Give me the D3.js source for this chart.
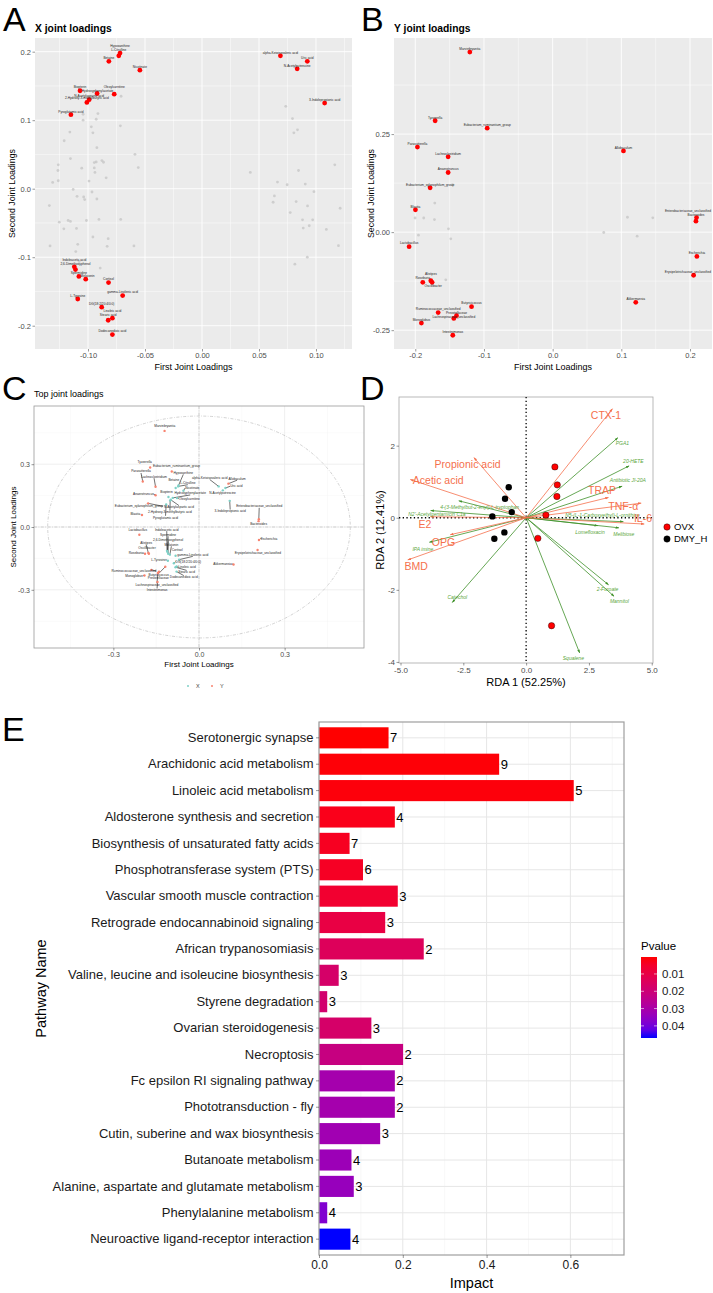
<!DOCTYPE html>
<html>
<head>
<meta charset="utf-8">
<script src="https://cdn.jsdelivr.net/npm/d3@7"></script>
<style>
body { margin: 0; background: #fff; }
text { font-family: "Liberation Sans", Arial, Helvetica, sans-serif; }
</style>
</head>
<body>
<div id="chart"></div>
<script>
// ---------- A: X joint loadings ----------
var xTopNames = ["Hypoxanthine", "L-Citrulline", "Betaine", "Nicotinate", "Biopterin",
  "Hydroxyphenylacetate", "Oleoylcarnitine", "N-Acetylaspartic acid", "2-Hydroxy-3-methylbutyric acid", "Pyroglutamic acid",
  "Indoleacetic acid", "2,6-Dimethoxyphenol", "Spermidine", "Melatonin", "Cortisol",
  "gamma-Linolenic acid", "L-Tyrosine", "DG(18:2/20:4/0:0)", "Linoleic acid", "Stearic acid",
  "Dodecanedioic acid", "alpha-Ketoisovaleric acid", "Uric acid", "N-Acetylputrescine", "3-Indolepropionic acid"];
var xTopL1 = [-0.0719, -0.0730, -0.0817, -0.0545, -0.1070, -0.0920, -0.0770, -0.0990, -0.1010, -0.1150,
  -0.1120, -0.1110, -0.1080, -0.1020, -0.0820, -0.0696, -0.1090, -0.0880, -0.0786, -0.0823,
  -0.0786, 0.0688, 0.0924, 0.0835, 0.1076];
var xTopL2 = [0.198, 0.194, 0.186, 0.173, 0.143, 0.139, 0.138, 0.130, 0.126, 0.108,
  -0.114, -0.118, -0.128, -0.132, -0.137, -0.156, -0.161, -0.173, -0.189, -0.192,
  -0.213, 0.194, 0.186, 0.175, 0.125];
var xRestL1 = [-0.1043, -0.0913, -0.1043, -0.0928, -0.0971, -0.0957, -0.1159, -0.0716, -0.1209, -0.0922,
  -0.0588, -0.1154, -0.0559, -0.1261, -0.1264, -0.1055, -0.0945, -0.0928, -0.0878, -0.0864,
  -0.0945, -0.0939, -0.0841, -0.1261, -0.1310, -0.0991, -0.1130, -0.0965, -0.1096, -0.1038,
  -0.1029, -0.0922, -0.1339, -0.1252, -0.1174, -0.1154, -0.1014, -0.0904, -0.1212, -0.1101,
  -0.0713, -0.0957, -0.0823, -0.1333, -0.1090, -0.0832, -0.0597, -0.1107, -0.1078, -0.0893,
  -0.0710,
  0.0735, 0.0794, 0.0838, 0.0806, 0.1165, 0.0424, 0.0847, 0.0662, 0.0747, 0.0906,
  0.0982, 0.0635, 0.0624, 0.0826, 0.0926, 0.1212, 0.0774, 0.0882, 0.0971, 0.0888,
  0.0941, 0.1091, 0.1197, 0.0924, 0.0815];
var xRestL2 = [0.1087, 0.1097, 0.1000, 0.1014, 0.0903, 0.0816, 0.0826, 0.0918, 0.0700, 0.0599,
  0.0502, 0.0440, 0.0309, 0.0348, 0.0266, 0.0300, 0.0382, 0.0391, 0.0411, 0.0386,
  0.0304, 0.0237, 0.0159, 0.0116, 0.0092, 0.0111, -0.0010, -0.0048, -0.0111, -0.0121,
  -0.0159, -0.0150, -0.0246, -0.0488, -0.0464, -0.0478, -0.0464, -0.0449, -0.0585, -0.0580,
  -0.0449, -0.0705, -0.0729, -0.0836, -0.0812, -0.0841, -0.0836, -0.0918, -0.1063, -0.1159,
  0.1350,
  0.1203, 0.1024, 0.0860, 0.0816, 0.0348, 0.0237, 0.0266, 0.0097, 0.0058, 0.0068,
  -0.0043, -0.0106, -0.0198, -0.0188, -0.0251, -0.0285, -0.0348, -0.0454, -0.0454, -0.0575,
  -0.0541, -0.0594, -0.0831, -0.1000, -0.1101];

// ---------- B: Y joint loadings ----------
var yTopNames = ["Marvinbryantia", "Tyzzerella", "Eubacterium_ruminantium_group", "Parasutterella", "Lachnoclostridium",
  "Anaerotruncus", "Eubacterium_xylanophilum_group", "Blautia", "Lactobacillus", "Alistipes",
  "Oscillibacter", "Roseburia", "Ruminococcaceae_unclassified", "Prevotellaceae", "Lachnospiraceae_unclassified",
  "Butyricicoccus", "Monoglobus", "Intestinimonas", "Allobaculum", "Enterobacteriaceae_unclassified",
  "Bacteroides", "Escherichia", "Erysipelotrichaceae_unclassified", "Akkermansia"];
var yTopL1 = [-0.1206, -0.1711, -0.0953, -0.1969, -0.1522, -0.1522, -0.1784, -0.1998, -0.2090, -0.1774,
  -0.1755, -0.1891, -0.1667, -0.1400, -0.1439, -0.1181, -0.1911, -0.1454, 0.1031, 0.2095,
  0.2086, 0.2100, 0.2052, 0.1210];
var yTopL2 = [0.459, 0.284, 0.265, 0.217, 0.192, 0.152, 0.113, 0.057, -0.037, -0.124,
  -0.128, -0.128, -0.205, -0.213, -0.220, -0.190, -0.232, -0.263, 0.207, 0.037,
  0.028, -0.062, -0.110, -0.179];
var yRestL1 = [-0.1458, -0.1716, -0.2003, -0.1877, -0.1721, -0.1517, -0.1954, -0.1483, -0.1556, 0.0744, 0.1089, 0.1458, 0.1230];
var yRestL2 = [0.121, 0.074, 0.036, 0.036, 0.032, 0.0085, -0.0077, -0.017, -0.1216, -0.001, 0.038, 0.0366, -0.0102];

// ---------- D: RDA ----------
var ovxRDA1 = [1.145, 1.24, 1.225, 0.786, 0.466, 1.012];
var ovxRDA2 = [1.41, 0.912, 0.59, 0.074, -0.571, -2.995];
var dmyRDA1 = [-0.692, -0.839, -0.573, -1.345, -0.866, -1.265];
var dmyRDA2 = [0.848, 0.525, 0.157, 0.037, -0.406, -0.581];
var envNames = ["CTX-1", "Propionic acid", "Acetic acid", "TRAP", "TNF-\u03b1", "IL-6", "E2", "OPG", "BMD"];
var envRDA1 = [3.435, -2.077, -4.607, 3.276, 4.58, 4.70, -3.81, -3.02, -4.71];
var envRDA2 = [3.023, 1.668, 1.06, 0.562, 0.405, -0.175, 0.028, -0.47, -1.17];
var envLabX = [3.18, -2.33, -3.50, 3.02, 3.87, 4.65, -4.03, -3.29, -4.38];
var envLabY = [2.84, 1.48, 1.04, 0.765, 0.32, -0.02, -0.175, -0.68, -1.355];
var sppNames = ["PGA1", "20-HETE", "Antibiotic JI-20A", "N5-(L-1-Carboxyethyl)-L-ornithine", "Lomefloxacin",
  "Melibiose", "2-Furoate", "Mannitol", "Squalene", "Catechol", "IPA imine",
  "4-(3-Methylbut-2-enyl)-L-tryptophan", "N2'-Acetylgentamicin C1a"];
var sppRDA1 = [3.65, 4.10, 3.82, 3.87, 2.85, 3.69, 3.28, 3.50, 2.13, -2.94, -3.85, -2.68, -3.80];
var sppRDA2 = [2.22, 1.44, 0.875, -0.11, -0.22, -0.28, -1.86, -2.18, -3.75, -2.35, -0.68, 0.47, 0.20];
var sppLabX = [3.83, 4.27, 4.05, 3.04, 2.54, 3.89, 3.24, 3.71, 1.88, -2.74, -4.11, -1.85, -3.55];
var sppLabY = [2.06, 1.58, 1.03, 0.07, -0.40, -0.45, -1.98, -2.32, -3.89, -2.21, -0.86, 0.30, 0.10];

// ---------- E: pathway impact ----------
var pathways = ["Serotonergic synapse", "Arachidonic acid metabolism", "Linoleic acid metabolism",
  "Aldosterone synthesis and secretion", "Biosynthesis of unsaturated fatty acids", "Phosphotransferase system (PTS)",
  "Vascular smooth muscle contraction", "Retrograde endocannabinoid signaling", "African trypanosomiasis",
  "Valine, leucine and isoleucine biosynthesis", "Styrene degradation", "Ovarian steroidogenesis", "Necroptosis",
  "Fc epsilon RI signaling pathway", "Phototransduction - fly", "Cutin, suberine and wax biosynthesis",
  "Butanoate metabolism", "Alanine, aspartate and glutamate metabolism", "Phenylalanine metabolism",
  "Neuroactive ligand-receptor interaction"];
var impact = [0.166, 0.430, 0.608, 0.181, 0.073, 0.105, 0.188, 0.158, 0.250, 0.047,
  0.0196, 0.125, 0.2007, 0.181, 0.181, 0.146, 0.0775, 0.083, 0.0196, 0.075];
var hits = [7, 9, 5, 4, 7, 6, 3, 3, 2, 3, 3, 3, 2, 2, 2, 3, 4, 3, 4, 4];
var pvalue = [0.0002, 0.0007, 0.001, 0.0025, 0.0035, 0.004, 0.006, 0.0096, 0.014, 0.017,
  0.018, 0.017, 0.022, 0.031, 0.031, 0.032, 0.033, 0.034, 0.038, 0.047];
var pTicks = [0.01, 0.02, 0.03, 0.04];

var W = 713, H = 1293;
var svg = d3.select("#chart").append("svg").attr("width", W).attr("height", H);
svg.append("rect").attr("width", W).attr("height", H).attr("fill", "#fff");
var defs = svg.append("defs");

function fmt(s) { var f = d3.format(s); return function (v) { return f(v).replace("\u2212", "-"); }; }

function letter(t, x, y) {
  svg.append("text").attr("x", x).attr("y", y).attr("font-size", 34).text(t);
}

function styleAxis(ax, fs, col) {
  ax.select(".domain").remove();
  ax.selectAll(".tick line").attr("stroke", "#333").attr("stroke-width", 0.5);
  ax.selectAll(".tick text").attr("fill", col || "#4D4D4D").attr("font-size", fs)
    .attr("font-family", "Liberation Sans, Arial, sans-serif");
}

function grid(g, x, y, xs, ys, col, w) {
  g.selectAll(null).data(xs).enter().append("line")
    .attr("x1", x).attr("x2", x).attr("y1", y.range()[0]).attr("y2", y.range()[1])
    .attr("stroke", col).attr("stroke-width", w);
  g.selectAll(null).data(ys).enter().append("line")
    .attr("y1", y).attr("y2", y).attr("x1", x.range()[0]).attr("x2", x.range()[1])
    .attr("stroke", col).attr("stroke-width", w);
}

// ggrepel-like label placement: push overlapping labels apart, keep them off the points
function repel(items, pts, box, iters, pull, init) {
  items.forEach(function (d) {
    var nx = 0, ny = 0;
    items.forEach(function (e) {
      var dx = d.ax - e.ax, dy = d.ay - e.ay, dist = Math.hypot(dx, dy);
      if (e !== d && dist < 45 && dist > 0) { nx += dx / dist / (dist + 5); ny += dy / dist / (dist + 5); }
    });
    var m = Math.hypot(nx, ny);
    if (init > 0 && m > 0) { d.x = d.ax + nx / m * init; d.y = d.ay + ny / m * init * 0.7 - 2; }
    else { d.x = d.ax; d.y = d.ay - 4; }
  });
  for (var k = 0; k < iters; k++) {
    for (var i = 0; i < items.length; i++) {
      var a = items[i];
      for (var j = i + 1; j < items.length; j++) {
        var c = items[j];
        var ox = (a.w + c.w) / 2 + 1 - Math.abs(a.x - c.x);
        var oy = (a.h + c.h) / 2 + 0.6 - Math.abs(a.y - c.y);
        if (ox > 0 && oy > 0) {
          if (oy < ox) { var s = (a.y <= c.y) ? -1 : 1; a.y += s * oy * 0.55; c.y -= s * oy * 0.55; }
          else { var s2 = a.x <= c.x ? -1 : 1; a.x += s2 * ox * 0.55; c.x -= s2 * ox * 0.55; }
        }
      }
      pts.forEach(function (p) {
        var px = a.w / 2 + 1.8 - Math.abs(a.x - p[0]);
        var py = a.h / 2 + 1.8 - Math.abs(a.y - p[1]);
        if (px > 0 && py > 0) {
          if (py < px) a.y += (a.y <= p[1] ? -1 : 1) * py * 0.5;
          else a.x += (a.x <= p[0] ? -1 : 1) * px * 0.5;
        }
      });
      a.x += (a.ax - a.x) * pull;
      a.y += (a.ay - a.y) * pull;
      a.x = Math.max(box[0] + a.w / 2 + 1, Math.min(box[1] - a.w / 2 - 1, a.x));
      a.y = Math.max(box[2] + a.h, Math.min(box[3] - 1, a.y));
    }
  }
}

// ggplot theme_gray scatter of joint loadings
function loadingsPanel(o) {
  var x = d3.scaleLinear().domain(o.xd).range([o.l, o.r]);
  var y = d3.scaleLinear().domain(o.yd).range([o.b, o.t]);
  var g = svg.append("g");
  g.append("rect").attr("x", o.l).attr("y", o.t).attr("width", o.r - o.l).attr("height", o.b - o.t).attr("fill", "#EBEBEB");
  grid(g, x, y, o.xMinor, o.yMinor, "#fff", 0.45);
  grid(g, x, y, o.xMajor, o.yMajor, "#fff", 0.9);

  g.selectAll(null).data(o.restX).enter().append("circle")
    .attr("cx", function (d) { return x(d); })
    .attr("cy", function (d, i) { return y(o.restY[i]); })
    .attr("r", 1.4).attr("fill", "#C4C4C4").attr("opacity", 0.75);
  g.selectAll(null).data(o.topX).enter().append("circle")
    .attr("cx", function (d) { return x(d); })
    .attr("cy", function (d, i) { return y(o.topY[i]); })
    .attr("r", 2.4).attr("fill", "#FF0000");

  var items = o.names.map(function (n, i) { return { name: n, ax: x(o.topX[i]), ay: y(o.topY[i]) }; });
  var lab = g.selectAll(null).data(items).enter().append("text")
    .attr("text-anchor", "middle").attr("font-size", 3.2).attr("fill", "#222")
    .text(function (d) { return d.name; });
  lab.each(function (d) { d.w = this.getComputedTextLength(); d.h = 3.4; });
  repel(items, items.map(function (d) { return [d.ax, d.ay]; }), [o.l, o.r, o.t, o.b], 300, 0.02, 0);
  lab.attr("x", function (d) { return d.x; }).attr("y", function (d) { return d.y + 1.2; });

  var ax = g.append("g").attr("transform", "translate(0," + o.b + ")")
    .call(d3.axisBottom(x).tickValues(o.xMajor).tickSize(2.5).tickPadding(1.5).tickFormat(fmt(o.xf)));
  styleAxis(ax, 7.5);
  var ay = g.append("g").attr("transform", "translate(" + o.l + ",0)")
    .call(d3.axisLeft(y).tickValues(o.yMajor).tickSize(2.5).tickPadding(1.5).tickFormat(fmt(o.yf)));
  styleAxis(ay, 7.5);

  g.append("text").attr("x", (o.l + o.r) / 2).attr("y", o.b + 21).attr("text-anchor", "middle")
    .attr("font-size", 9).text("First Joint Loadings");
  g.append("text").attr("transform", "translate(" + (o.l - 20) + "," + ((o.t + o.b) / 2) + ") rotate(-90)")
    .attr("text-anchor", "middle").attr("font-size", 8.8).text("Second Joint Loadings");
  g.append("text").attr("x", o.l).attr("y", o.t - 6).attr("font-size", 10.3).attr("font-weight", "bold").text(o.title);
}

letter("A", 3, 31);
loadingsPanel({
  l: 35, r: 352, t: 38, b: 349, xd: [-0.1465, 0.1316], yd: [-0.234, 0.22],
  xMajor: [-0.1, -0.05, 0, 0.05, 0.1], xMinor: [-0.125, -0.075, -0.025, 0.025, 0.075, 0.125],
  yMajor: [-0.2, -0.1, 0, 0.1, 0.2], yMinor: [-0.15, -0.05, 0.05, 0.15],
  xf: ".2f", yf: ".1f", title: "X joint loadings",
  topX: xTopL1, topY: xTopL2, restX: xRestL1, restY: xRestL2, names: xTopNames
});

letter("B", 361, 31);
loadingsPanel({
  l: 394, r: 712, t: 38, b: 349, xd: [-0.231, 0.232], yd: [-0.298, 0.495],
  xMajor: [-0.2, -0.1, 0, 0.1, 0.2], xMinor: [-0.15, -0.05, 0.05, 0.15],
  yMajor: [-0.25, 0, 0.25], yMinor: [-0.125, 0.125, 0.375],
  xf: ".1f", yf: ".2f", title: "Y joint loadings",
  topX: yTopL1, topY: yTopL2, restX: yRestL1, restY: yRestL2, names: yTopNames
});

// ---------- C ----------
(function () {
  var l = 34, r = 364, t = 406, b = 648;
  var x = d3.scaleLinear().domain([-0.578, 0.578]).range([l, r]);
  var y = d3.scaleLinear().domain([-0.578, 0.578]).range([b, t]);
  var g = svg.append("g");
  grid(g, x, y, [-0.45, -0.15, 0.15, 0.45], [-0.45, -0.15, 0.15, 0.45], "#F2F2F2", 0.4);
  grid(g, x, y, [-0.3, 0, 0.3], [-0.3, 0, 0.3], "#EBEBEB", 0.8);
  var dash = "3,1.5,0.8,1.5";
  g.append("ellipse").attr("cx", x(0)).attr("cy", y(0))
    .attr("rx", x(0.53) - x(0)).attr("ry", y(0) - y(0.53))
    .attr("fill", "none").attr("stroke", "#B5B5B5").attr("stroke-width", 0.6).attr("stroke-dasharray", dash);
  g.append("line").attr("x1", l).attr("x2", r).attr("y1", y(0)).attr("y2", y(0))
    .attr("stroke", "#B5B5B5").attr("stroke-width", 0.6).attr("stroke-dasharray", dash);
  g.append("line").attr("y1", t).attr("y2", b).attr("x1", x(0)).attr("x2", x(0))
    .attr("stroke", "#B5B5B5").attr("stroke-width", 0.6).attr("stroke-dasharray", dash);
  g.append("rect").attr("x", l).attr("y", t).attr("width", r - l).attr("height", b - t)
    .attr("fill", "none").attr("stroke", "#9A9A9A").attr("stroke-width", 0.8);

  var items = [];
  xTopNames.forEach(function (n, i) { items.push({ name: n, ax: x(xTopL1[i]), ay: y(xTopL2[i]), col: "#7FD1C7" }); });
  yTopNames.forEach(function (n, i) { items.push({ name: n, ax: x(yTopL1[i]), ay: y(yTopL2[i]), col: "#F8836F" }); });

  var lab = g.selectAll(null).data(items).enter().append("text")
    .attr("font-size", 3.2).attr("fill", "#222").attr("text-anchor", "middle")
    .text(function (d) { return d.name; });
  lab.each(function (d) { d.w = this.getComputedTextLength(); d.h = 4.6; });
  repel(items, items.map(function (d) { return [d.ax, d.ay]; }), [l, r, t, b], 700, 0.003, 16);

  g.selectAll(null).data(items.filter(function (d) { return Math.hypot(d.x - d.ax, d.y - d.ay) > 8; }))
    .enter().append("line")
    .attr("x1", function (d) { return d.ax; }).attr("y1", function (d) { return d.ay; })
    .attr("x2", function (d) {
      if (Math.abs(d.y - 1.2 - d.ay) < 3) return d.x + (d.ax < d.x ? -d.w / 2 : d.w / 2);
      return d.x;
    })
    .attr("y2", function (d) {
      if (Math.abs(d.y - 1.2 - d.ay) < 3) return d.y - 1.2;
      return d.y + (d.y < d.ay ? 0.6 : -2.8);
    })
    .attr("stroke", "#111").attr("stroke-width", 0.6);
  g.selectAll(null).data(items).enter().append("circle")
    .attr("cx", function (d) { return d.ax; }).attr("cy", function (d) { return d.ay; })
    .attr("r", 1.2).attr("fill", function (d) { return d.col; });
  lab.attr("x", function (d) { return d.x; }).attr("y", function (d) { return d.y; }).raise();

  var ax = g.append("g").attr("transform", "translate(0," + b + ")")
    .call(d3.axisBottom(x).tickValues([-0.3, 0, 0.3]).tickSize(2.5).tickPadding(1.5).tickFormat(fmt(".1f")));
  styleAxis(ax, 7);
  var ay = g.append("g").attr("transform", "translate(" + l + ",0)")
    .call(d3.axisLeft(y).tickValues([-0.3, 0, 0.3]).tickSize(2.5).tickPadding(1.5).tickFormat(fmt(".1f")));
  styleAxis(ay, 7);
  g.append("text").attr("x", (l + r) / 2).attr("y", b + 19).attr("text-anchor", "middle").attr("font-size", 8).text("First Joint Loadings");
  g.append("text").attr("transform", "translate(" + (l - 18) + "," + ((t + b) / 2) + ") rotate(-90)")
    .attr("text-anchor", "middle").attr("font-size", 8).text("Second Joint Loadings");
  g.append("text").attr("x", l).attr("y", t - 9).attr("font-size", 9).text("Top joint loadings");
  // legend
  var lg = g.append("g").attr("transform", "translate(188,686)");
  lg.append("circle").attr("cx", 0).attr("cy", 0).attr("r", 1).attr("fill", "#7FD1C7");
  lg.append("text").attr("x", 8).attr("y", 2).attr("font-size", 5.5).attr("fill", "#444").text("X");
  lg.append("circle").attr("cx", 24).attr("cy", 0).attr("r", 1).attr("fill", "#F8836F");
  lg.append("text").attr("x", 32).attr("y", 2).attr("font-size", 5.5).attr("fill", "#444").text("Y");
})();
letter("C", 2, 400);

// ---------- D ----------
(function () {
  var l = 399, r = 653, t = 397, b = 663;
  var x = d3.scaleLinear().domain([-5.06, 5.05]).range([l, r]);
  var y = d3.scaleLinear().domain([-4.03, 3.35]).range([b, t]);
  var orange = "#F5704C", green = "#3F9129", greenTxt = "#5AA63B";
  var g = svg.append("g");
  [["arrO", orange], ["arrG", green]].forEach(function (m) {
    defs.append("marker").attr("id", m[0]).attr("viewBox", "0 0 10 10").attr("refX", 9).attr("refY", 5)
      .attr("markerWidth", 4.5).attr("markerHeight", 4.5).attr("orient", "auto")
      .append("path").attr("d", "M0,1.5 L10,5 L0,8.5 Z").attr("fill", m[1]);
  });
  g.append("rect").attr("x", l).attr("y", t).attr("width", r - l).attr("height", b - t)
    .attr("fill", "#fff").attr("stroke", "#A8A8A8").attr("stroke-width", 0.8);
  g.append("line").attr("x1", l).attr("x2", r).attr("y1", y(0)).attr("y2", y(0))
    .attr("stroke", "#000").attr("stroke-width", 1.3).attr("stroke-dasharray", "1.3,2.4");
  g.append("line").attr("y1", t).attr("y2", b).attr("x1", x(0)).attr("x2", x(0))
    .attr("stroke", "#000").attr("stroke-width", 1.3).attr("stroke-dasharray", "1.3,2.4");

  g.selectAll(null).data(sppNames).enter().append("line")
    .attr("x1", x(0)).attr("y1", y(0))
    .attr("x2", function (d, i) { return x(sppRDA1[i]); }).attr("y2", function (d, i) { return y(sppRDA2[i]); })
    .attr("stroke", green).attr("stroke-width", 0.8).attr("marker-end", "url(#arrG)");
  g.selectAll(null).data(envNames).enter().append("line")
    .attr("x1", x(0)).attr("y1", y(0))
    .attr("x2", function (d, i) { return x(envRDA1[i]); }).attr("y2", function (d, i) { return y(envRDA2[i]); })
    .attr("stroke", orange).attr("stroke-width", 0.8).attr("marker-end", "url(#arrO)");

  g.selectAll(null).data(ovxRDA1).enter().append("circle")
    .attr("cx", function (d) { return x(d); }).attr("cy", function (d, i) { return y(ovxRDA2[i]); })
    .attr("r", 3.2).attr("fill", "#FF0000").attr("stroke", "#000").attr("stroke-width", 0.4);
  g.selectAll(null).data(dmyRDA1).enter().append("circle")
    .attr("cx", function (d) { return x(d); }).attr("cy", function (d, i) { return y(dmyRDA2[i]); })
    .attr("r", 3.2).attr("fill", "#000");

  g.selectAll(null).data(sppNames).enter().append("text")
    .attr("x", function (d, i) { return x(sppLabX[i]); }).attr("y", function (d, i) { return y(sppLabY[i]) + 1.8; })
    .attr("text-anchor", "middle").attr("font-size", 5).attr("font-style", "italic").attr("fill", greenTxt)
    .text(function (d) { return d; });
  g.selectAll(null).data(envNames).enter().append("text")
    .attr("x", function (d, i) { return x(envLabX[i]); }).attr("y", function (d, i) { return y(envLabY[i]) + 3.6; })
    .attr("text-anchor", "middle").attr("font-size", 10.5).attr("fill", orange)
    .text(function (d) { return d; });

  var ax = g.append("g").attr("transform", "translate(0," + b + ")")
    .call(d3.axisBottom(x).tickValues([-5, -2.5, 0, 2.5, 5]).tickSize(2.5).tickPadding(1.5).tickFormat(fmt(".1f")));
  styleAxis(ax, 8);
  var ay = g.append("g").attr("transform", "translate(" + l + ",0)")
    .call(d3.axisLeft(y).tickValues([-4, -2, 0, 2]).tickSize(2.5).tickPadding(1.5).tickFormat(fmt("d")));
  styleAxis(ay, 8);
  g.append("text").attr("x", (l + r) / 2).attr("y", b + 23).attr("text-anchor", "middle").attr("font-size", 11).text("RDA 1 (52.25%)");
  g.append("text").attr("transform", "translate(" + (l - 15) + "," + ((t + b) / 2) + ") rotate(-90)")
    .attr("text-anchor", "middle").attr("font-size", 11).text("RDA 2 (12.41%)");

  var groups = [["OVX", "#FF0000"], ["DMY_H", "#000"]];
  var lg = g.selectAll(null).data(groups).enter().append("g")
    .attr("transform", function (d, i) { return "translate(667," + (527 + i * 12) + ")"; });
  lg.append("circle").attr("r", 3.2).attr("fill", function (d) { return d[1]; }).attr("stroke", "#000").attr("stroke-width", 0.4);
  lg.append("text").attr("x", 7).attr("y", 3.4).attr("font-size", 9.5).text(function (d) { return d[0]; });
})();
letter("D", 360, 400);

// ---------- E ----------
(function () {
  var l = 319, r = 624, t = 722, b = 1255;
  var x = d3.scaleLinear().domain([0, 0.728]).range([l, r]);
  var y = d3.scaleBand().domain(pathways).range([t, b]).paddingInner(0.2).paddingOuter(0.2);
  var col = d3.scaleLinear().domain(d3.extent(pvalue)).range(["#FF0000", "#0000FF"]).interpolate(d3.interpolateLab);
  var g = svg.append("g");
  [0.1, 0.3, 0.5, 0.7].forEach(function (v) {
    g.append("line").attr("x1", x(v)).attr("x2", x(v)).attr("y1", t).attr("y2", b).attr("stroke", "#F2F2F2").attr("stroke-width", 0.6);
  });
  [0, 0.2, 0.4, 0.6].forEach(function (v) {
    g.append("line").attr("x1", x(v)).attr("x2", x(v)).attr("y1", t).attr("y2", b).attr("stroke", "#E6E6E6").attr("stroke-width", 1);
  });
  g.selectAll(null).data(pathways).enter().append("line")
    .attr("x1", l).attr("x2", r)
    .attr("y1", function (d) { return y(d) + y.bandwidth() / 2; }).attr("y2", function (d) { return y(d) + y.bandwidth() / 2; })
    .attr("stroke", "#E6E6E6").attr("stroke-width", 1);

  g.selectAll(null).data(pathways).enter().append("rect")
    .attr("x", x(0)).attr("y", function (d) { return y(d); })
    .attr("width", function (d, i) { return x(impact[i]) - x(0); }).attr("height", y.bandwidth())
    .attr("fill", function (d, i) { return col(pvalue[i]); });
  g.selectAll(null).data(pathways).enter().append("text")
    .attr("x", function (d, i) { return x(impact[i]) + 1.5; })
    .attr("y", function (d) { return y(d) + y.bandwidth() / 2 + 4.6; })
    .attr("font-size", 13).text(function (d, i) { return hits[i]; });

  g.append("rect").attr("x", l).attr("y", t).attr("width", r - l).attr("height", b - t)
    .attr("fill", "none").attr("stroke", "#9E9E9E").attr("stroke-width", 1.2);

  var ax = g.append("g").attr("transform", "translate(0," + b + ")")
    .call(d3.axisBottom(x).tickValues([0, 0.2, 0.4, 0.6]).tickSize(3).tickPadding(2).tickFormat(fmt(".1f")));
  styleAxis(ax, 12, "#1A1A1A");
  var ay = g.append("g").attr("transform", "translate(" + l + ",0)")
    .call(d3.axisLeft(y).tickSize(3).tickPadding(2.5));
  styleAxis(ay, 13, "#1A1A1A");

  g.append("text").attr("x", (l + r) / 2).attr("y", b + 33).attr("text-anchor", "middle").attr("font-size", 14.5).text("Impact");
  g.append("text").attr("transform", "translate(46," + ((t + b) / 2) + ") rotate(-90)")
    .attr("text-anchor", "middle").attr("font-size", 14.5).text("Pathway Name");

  // colour bar
  var cy = d3.scaleLinear().domain(d3.extent(pvalue)).range([957, 1038]);
  var grad = defs.append("linearGradient").attr("id", "pgrad").attr("x1", 0).attr("x2", 0).attr("y1", 0).attr("y2", 1);
  d3.range(0, 1.0001, 0.1).forEach(function (s) {
    grad.append("stop").attr("offset", s).attr("stop-color", col(cy.domain()[0] + s * (cy.domain()[1] - cy.domain()[0])));
  });
  g.append("text").attr("x", 641).attr("y", 950).attr("font-size", 11.5).text("Pvalue");
  g.append("rect").attr("x", 641).attr("y", 957).attr("width", 16).attr("height", 81).attr("fill", "url(#pgrad)");
  pTicks.forEach(function (v) {
    g.append("line").attr("x1", 641).attr("x2", 644).attr("y1", cy(v)).attr("y2", cy(v)).attr("stroke", "#fff").attr("stroke-width", 0.6);
    g.append("line").attr("x1", 654).attr("x2", 657).attr("y1", cy(v)).attr("y2", cy(v)).attr("stroke", "#fff").attr("stroke-width", 0.6);
    g.append("text").attr("x", 662).attr("y", cy(v) + 4).attr("font-size", 11.5).attr("fill", "#1A1A1A").text(fmt(".2f")(v));
  });
})();
letter("E", 2, 741);
</script>
</body>
</html>
